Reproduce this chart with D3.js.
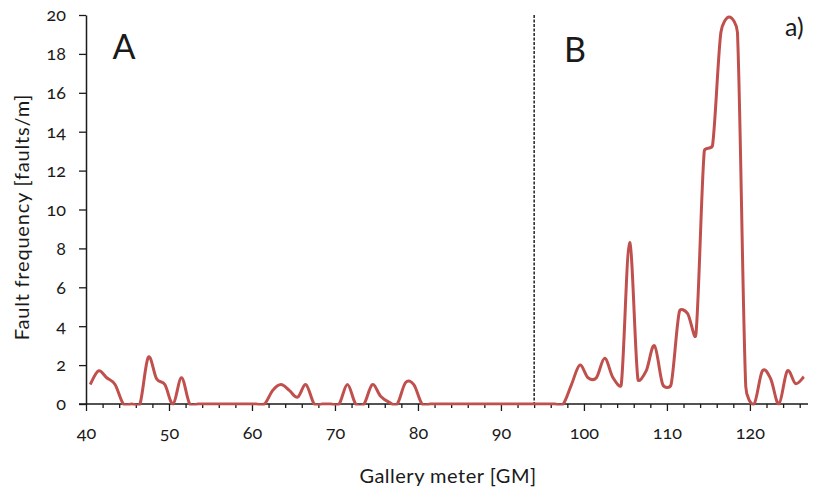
<!DOCTYPE html>
<html>
<head>
<meta charset="utf-8">
<script src="https://cdn.jsdelivr.net/npm/d3@7"></script>
<style>
  body { margin: 0; background: #fff; }
  svg text { font-family: Lato, "Noto Sans", sans-serif; fill: #1a1a1a; font-variant-numeric: oldstyle-nums; }
</style>
</head>
<body>
<div id="chart"></div>
<script>
// Gallery meter (bin centres) and fault frequency per bin
const galleryMeter = [
  40.5, 41.5, 42.5, 43.5, 44.5, 45.5, 46.5, 47.5, 48.5, 49.5,
  50.5, 51.5, 52.5, 53.5, 54.5, 55.5, 56.5, 57.5, 58.5, 59.5,
  60.5, 61.5, 62.5, 63.5, 64.5, 65.5, 66.5, 67.5, 68.5, 69.5,
  70.5, 71.5, 72.5, 73.5, 74.5, 75.5, 76.5, 77.5, 78.5, 79.5,
  80.5, 81.5, 82.5, 83.5, 84.5, 85.5, 86.5, 87.5, 88.5, 89.5,
  90.5, 91.5, 92.5, 93.5, 94.5, 95.5, 96.5, 97.5, 98.5, 99.5,
  100.5, 101.5, 102.5, 103.5, 104.5, 105.5, 106.5, 107.5, 108.5, 109.5,
  110.5, 111.5, 112.5, 113.5, 114.5, 115.5, 116.5, 117.5, 118.5, 119.5,
  120.5, 121.5, 122.5, 123.5, 124.5, 125.5, 126.5
];
const faultFreq = [
  1.0, 1.7, 1.35, 1.0, 0, 0, 0, 2.4, 1.3, 1.0,
  0, 1.35, 0, 0, 0, 0, 0, 0, 0, 0,
  0, 0, 0.7, 1.0, 0.7, 0.35, 1.0, 0, 0, 0,
  0, 1.0, 0, 0, 1.0, 0.4, 0.1, 0, 1.1, 1.0,
  0, 0, 0, 0, 0, 0, 0, 0, 0, 0,
  0, 0, 0, 0, 0, 0, 0, 0, 1.0, 2.0,
  1.35, 1.35, 2.35, 1.35, 1.0, 8.3, 1.3, 1.7, 3.0, 1.0,
  1.0, 4.75, 4.65, 3.6, 13.0, 13.3, 19.1, 19.9, 19.1, 0.9,
  0, 1.7, 1.3, 0, 1.7, 1.05, 1.4
];
const xMajorTicks = [40, 50, 60, 70, 80, 90, 100, 110, 120];
const xMinorTicks = [42, 44, 46, 48, 52, 54, 56, 58, 62, 64, 66, 68, 72, 74, 76, 78,
  82, 84, 86, 88, 92, 94, 96, 98, 102, 104, 106, 108, 112, 114, 116, 118, 122, 124, 126];
const yTicks = [0, 2, 4, 6, 8, 10, 12, 14, 16, 18, 20];
const zoneBoundary = 94;
const zoneLabels = [{ name: "A", m: 43.2 }, { name: "B", m: 97.6 }];

const W = 813, H = 494;
const plotLeft = 86, plotRight = 808, plotTop = 15, plotBottom = 404;

// spreadsheet-style smoothing: bezier with tangents parallel to the
// neighbour chord, shortened so a control point never passes half a segment
function SmoothCurve(context) { this._context = context; }
SmoothCurve.prototype = {
  areaStart() {}, areaEnd() {},
  lineStart() { this._pts = []; },
  point(px, py) { this._pts.push([+px, +py]); },
  lineEnd() {
    const p = this._pts, n = p.length, ctx = this._context, f = 1 / 6;
    if (!n) return;
    const dist = (a, b) => Math.hypot(b[0] - a[0], b[1] - a[1]);
    ctx.moveTo(p[0][0], p[0][1]);
    for (let i = 0; i < n - 1; i++) {
      const p0 = p[i - 1] || p[i], p1 = p[i], p2 = p[i + 1], p3 = p[i + 2] || p[i + 1];
      const d12 = dist(p1, p2), d02 = dist(p0, p2), d13 = dist(p1, p3);
      const f1 = f * d02 > d12 / 2 ? d12 / (2 * d02) : f;
      const f2 = f * d13 > d12 / 2 ? d12 / (2 * d13) : f;
      ctx.bezierCurveTo(
        p1[0] + f1 * (p2[0] - p0[0]), p1[1] + f1 * (p2[1] - p0[1]),
        p2[0] - f2 * (p3[0] - p1[0]), p2[1] - f2 * (p3[1] - p1[1]),
        p2[0], p2[1]);
    }
  }
};
const curveSmooth = ctx => new SmoothCurve(ctx);

const svg = d3.select("#chart").append("svg")
  .attr("width", W).attr("height", H);

const x = d3.scaleLinear().domain([40, 127]).range([plotLeft, plotRight]);
const y = d3.scaleLinear().domain([0, 20]).range([plotBottom, plotTop]);

// clip so the smoothed curve never dips under the x axis
svg.append("clipPath").attr("id", "plotClip")
  .append("rect")
  .attr("x", plotLeft).attr("y", plotTop - 2)
  .attr("width", plotRight - plotLeft).attr("height", plotBottom - plotTop + 3.5);

// minor x ticks
svg.append("g")
  .attr("transform", `translate(0,${plotBottom})`)
  .call(d3.axisBottom(x).tickValues(xMinorTicks).tickSize(4).tickFormat(""))
  .call(g => g.select(".domain").remove())
  .call(g => g.selectAll("line").attr("stroke", "#1a1a1a").attr("stroke-width", 1.3));

// major x ticks + labels
const xAxis = svg.append("g")
  .attr("transform", `translate(0,${plotBottom})`)
  .call(d3.axisBottom(x).tickValues(xMajorTicks).tickSize(7).tickSizeOuter(0).tickPadding(15));
xAxis.select(".domain").attr("stroke", "#1a1a1a").attr("stroke-width", 1.5)
  .attr("d", `M${plotLeft - 7},0H${plotRight}`);
xAxis.selectAll("line").attr("stroke", "#1a1a1a").attr("stroke-width", 1.3);
xAxis.selectAll("text").style("font-size", "18px").attr("fill", "#1a1a1a");

// y axis
const yAxis = svg.append("g")
  .attr("transform", `translate(${plotLeft},0)`)
  .call(d3.axisLeft(y).tickValues(yTicks).tickSize(7).tickSizeOuter(0).tickPadding(13));
yAxis.select(".domain").attr("stroke", "#1a1a1a").attr("stroke-width", 1.5);
yAxis.selectAll("line").attr("stroke", "#1a1a1a").attr("stroke-width", 1.3);
yAxis.selectAll("text").style("font-size", "18px").attr("fill", "#1a1a1a");

// zone boundary
svg.append("line")
  .attr("x1", x(zoneBoundary)).attr("x2", x(zoneBoundary))
  .attr("y1", y(20)).attr("y2", y(0))
  .attr("stroke", "#000").attr("stroke-width", 1.3)
  .attr("stroke-dasharray", "3,1.5");

// fault frequency curve
const pts = galleryMeter.map((m, i) => [m, faultFreq[i]]);
const line = d3.line()
  .x(d => x(d[0]))
  .y(d => y(d[1]))
  .curve(curveSmooth);

svg.append("path")
  .datum(pts)
  .attr("clip-path", "url(#plotClip)")
  .attr("d", line)
  .attr("fill", "none")
  .attr("stroke", "#C0504D")
  .attr("stroke-width", 3)
  .attr("stroke-linejoin", "round");

// zone letters and panel tag
svg.selectAll(".zone")
  .data(zoneLabels).enter()
  .append("text")
  .attr("class", "zone")
  .attr("x", d => x(d.m))
  .attr("y", (d, i) => i === 0 ? 59 : 62)
  .style("font-size", "34px")
  .text(d => d.name);

svg.append("text")
  .attr("x", 785).attr("y", 36)
  .style("font-size", "25px")
  .text("a)");

// axis titles
svg.append("text")
  .attr("x", (plotLeft + plotRight) / 2 + 1).attr("y", 483)
  .attr("text-anchor", "middle")
  .style("font-size", "20px")
  .style("letter-spacing", "0.5px")
  .text("Gallery meter [GM]");

svg.append("text")
  .attr("transform", "translate(29,217) rotate(-90)")
  .attr("text-anchor", "middle")
  .style("font-size", "20px")
  .style("letter-spacing", "0.8px")
  .text("Fault frequency [faults/m]");
</script>
</body>
</html>
